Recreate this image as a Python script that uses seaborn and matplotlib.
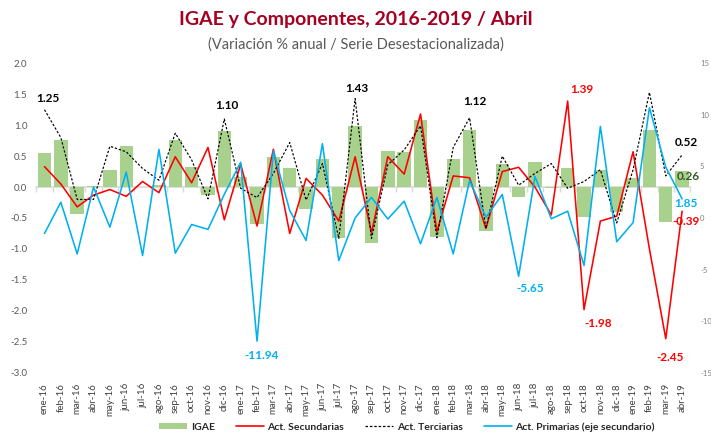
import numpy as np
import pandas as pd
import matplotlib
matplotlib.use("Agg")
import matplotlib.pyplot as plt
from matplotlib.patches import Patch
from matplotlib.lines import Line2D
from matplotlib.ticker import FixedLocator
import seaborn as sns

months = ['ene-16', 'feb-16', 'mar-16', 'abr-16', 'may-16', 'jun-16', 'jul-16', 'ago-16',
          'sep-16', 'oct-16', 'nov-16', 'dic-16',
          'ene-17', 'feb-17', 'mar-17', 'abr-17', 'may-17', 'jun-17', 'jul-17', 'ago-17',
          'sep-17', 'oct-17', 'nov-17', 'dic-17',
          'ene-18', 'feb-18', 'mar-18', 'abr-18', 'may-18', 'jun-18', 'jul-18', 'ago-18',
          'sep-18', 'oct-18', 'nov-18', 'dic-18',
          'ene-19', 'feb-19', 'mar-19', 'abr-19']

igae = [0.55, 0.76, -0.44, 0.01, 0.28, 0.66, 0.00, 0.04, 0.76, 0.32, -0.13, 0.90,
        0.16, -0.59, 0.49, 0.30, -0.36, 0.46, -0.82, 0.98, -0.91, 0.58, 0.57, 1.08,
        -0.80, 0.45, 0.93, -0.71, 0.38, -0.16, 0.40, -0.02, 0.30, -0.48, 0.27, -0.40,
        0.14, 0.92, -0.56, 0.26]

secundarias = [0.33, 0.05, -0.32, -0.13, -0.04, -0.15, 0.09, -0.09, 0.49, 0.07, 0.64, -0.53,
               0.37, -0.63, 0.61, -0.75, 0.14, -0.13, -0.55, 0.49, -0.74, 0.49, 0.21, 1.18,
               -0.72, 0.18, 0.15, -0.67, 0.25, 0.32, 0.00, -0.45, 1.39, -1.98, -0.55, -0.47,
               0.57, -1.00, -2.45, -0.39]

terciarias = [1.25, 0.80, -0.20, -0.20, 0.66, 0.57, 0.30, 0.11, 0.87, 0.44, -0.19, 1.10,
              -0.02, -0.17, 0.22, 0.72, -0.21, 0.38, -0.83, 1.43, -0.83, 0.36, 0.60, 0.99,
              -0.82, 0.64, 1.12, -0.67, 0.50, 0.03, 0.22, 0.38, -0.02, 0.09, 0.28, -0.58,
              0.28, 1.53, 0.18, 0.52]

primarias = [-1.50, 1.53, -3.48, 3.00, -0.89, 4.45, -3.64, 6.65, -3.41, -0.63, -1.10, 2.30,
             5.40, -11.94, 6.50, 0.73, -2.18, 7.20, -4.13, 0.00, 2.00, -0.10, 1.63, -2.50,
             2.00, -3.48, 3.64, 0.08, 2.28, -5.65, 4.03, -0.08, 0.66, -4.61, 8.88, -2.30,
             -0.45, 10.70, 4.93, 1.85]

left_ticks = [-3.0, -2.5, -2.0, -1.5, -1.0, -0.5, 0.0, 0.5, 1.0, 1.5, 2.0]
right_ticks = [-15, -10, -5, 0, 5, 10, 15]

series_names = ['IGAE', 'Act. Secundarias', 'Act. Terciarias', 'Act. Primarias (eje secundario)']

# labelled points (month index)
label_ter = [0, 11, 19, 26, 39]
label_sec = [32, 33, 38, 39]
label_pri = [13, 29, 39]
label_igae = [39]

df = pd.DataFrame({'mes': months, 'pos': np.arange(len(months)), 'igae': igae,
                   'sec': secundarias, 'ter': terciarias, 'pri': primarias})

C_BAR = '#A9D18E'
C_RED = '#FF0000'
C_BLUE = '#00B0F0'
C_BLK = '#000000'
C_GRN_TXT = '#385723'

sns.set_theme(style='white')
plt.rcParams['font.family'] = ['Lato', 'DejaVu Sans']

fig = plt.figure(figsize=(7.11, 4.36), dpi=100)
ax = fig.add_axes([36.3 / 711, 1 - 372.7 / 436, 654 / 711, 309.4 / 436])

sns.barplot(data=df, x='pos', y='igae', color=C_BAR, saturation=1, width=0.82,
            ax=ax, zorder=2, edgecolor='none')
sns.lineplot(data=df, x='pos', y='sec', color=C_RED, lw=1.15, ax=ax, zorder=4)
sns.lineplot(data=df, x='pos', y='ter', color=C_BLK, lw=0.85, ax=ax, zorder=5,
             linestyle=(0, (2.0, 1.5)))

ax2 = ax.twinx()
sns.lineplot(data=df, x='pos', y='pri', color=C_BLUE, lw=1.15, ax=ax2, zorder=3)

n = len(months)
ax.set_xlim(-0.5, n - 0.5)
ax.set_ylim(-3, 2)
ax2.set_ylim(-15, 15)
ax.set_xlabel('')
ax.set_ylabel('')
ax2.set_xlabel('')
ax2.set_ylabel('')

# left axis
ax.set_yticks(left_ticks)
ax.set_yticklabels([f'{v:.1f}' for v in left_ticks])
ax.tick_params(axis='y', length=0, pad=6.5, labelsize=7, labelcolor='#595959')
for s in ['left', 'right', 'top']:
    ax.spines[s].set_visible(False)

# category axis crossing at zero
ax.spines['bottom'].set_position(('data', 0))
ax.spines['bottom'].set_color('#D9D9D9')
ax.spines['bottom'].set_linewidth(1.2)
ax.spines['bottom'].set_zorder(1)
ax.set_xticks(df['pos'])
ax.xaxis.set_minor_locator(FixedLocator(np.arange(n + 1) - 0.5))
ax.tick_params(axis='x', which='major', length=0, labelbottom=False)
ax.tick_params(axis='x', which='minor', length=3.5, width=1, color='#D9D9D9',
               direction='out', bottom=True)

sec = ax.secondary_xaxis('bottom')
sec.set_xticks(df['pos'], labels=df['mes'])
sec.tick_params(axis='x', length=0, pad=7.5, labelsize=7, labelcolor='#404040',
                labelrotation=90)
sec.spines['bottom'].set_visible(False)

# right axis
ax2.set_yticks(right_ticks)
ax2.set_yticklabels([str(v) for v in right_ticks])
ax2.tick_params(axis='y', length=0, pad=7, labelsize=5.5, labelcolor='#808080')
for s in ['left', 'right', 'top', 'bottom']:
    ax2.spines[s].set_visible(False)

# data labels (offsets in points)
px = 0.72
lab_kw = dict(textcoords='offset points', ha='center', va='center',
              fontsize=8.5, fontweight='bold')
ter_off = {0: (3.5, 11), 11: (3, 13), 19: (2, 10.5), 26: (5, 16), 39: (4, 12)}
for i in label_ter:
    dx, dy = ter_off[i]
    ax.annotate(f'{terciarias[i]:.2f}', (i, terciarias[i]), xytext=(dx * px, dy * px),
                color=C_BLK, **lab_kw)
sec_off = {32: (14.5, 12), 33: (14.5, -13.7), 38: (4, -19), 39: (4, -10)}
for i in label_sec:
    dx, dy = sec_off[i]
    ax.annotate(f'{secundarias[i]:.2f}', (i, secundarias[i]), xytext=(dx * px, dy * px),
                color=C_RED, **lab_kw)
pri_off = {13: (4.5, -14.6), 29: (12, -12), 39: (4, -5)}
for i in label_pri:
    dx, dy = pri_off[i]
    ax2.annotate(f'{primarias[i]:.2f}', (i, primarias[i]), xytext=(dx * px, dy * px),
                 color=C_BLUE, **lab_kw)
for i in label_igae:
    ax.annotate(f'{igae[i]:.2f}', (i, igae[i]), xytext=(6 * px, -6 * px),
                color=C_GRN_TXT, zorder=6, **lab_kw)

# titles
fig.text(0.5, 1 - 20 / 436, 'IGAE y Componentes, 2016-2019 / Abril', ha='center', va='center',
         fontsize=14, fontweight='bold', color='#A50021')
fig.text(0.5, 1 - 45 / 436, '(Variación % anual / Serie Desestacionalizada)', ha='center',
         va='center', fontsize=10.5, color='#595959')

# legend
handles = [Patch(facecolor=C_BAR, edgecolor='none'),
           Line2D([], [], color=C_RED, lw=1.2),
           Line2D([], [], color=C_BLK, lw=0.9, linestyle=(0, (2.0, 1.5))),
           Line2D([], [], color=C_BLUE, lw=1.2)]
fig.legend(handles, series_names, loc='center', bbox_to_anchor=(407 / 711, 1 - 427 / 436),
           ncol=4, frameon=False, prop={'size': 7.5, 'weight': 'bold'},
           handlelength=2.7, handleheight=0.6, handletextpad=0.35, columnspacing=2.0)

fig.savefig('out.png', dpi=100)
